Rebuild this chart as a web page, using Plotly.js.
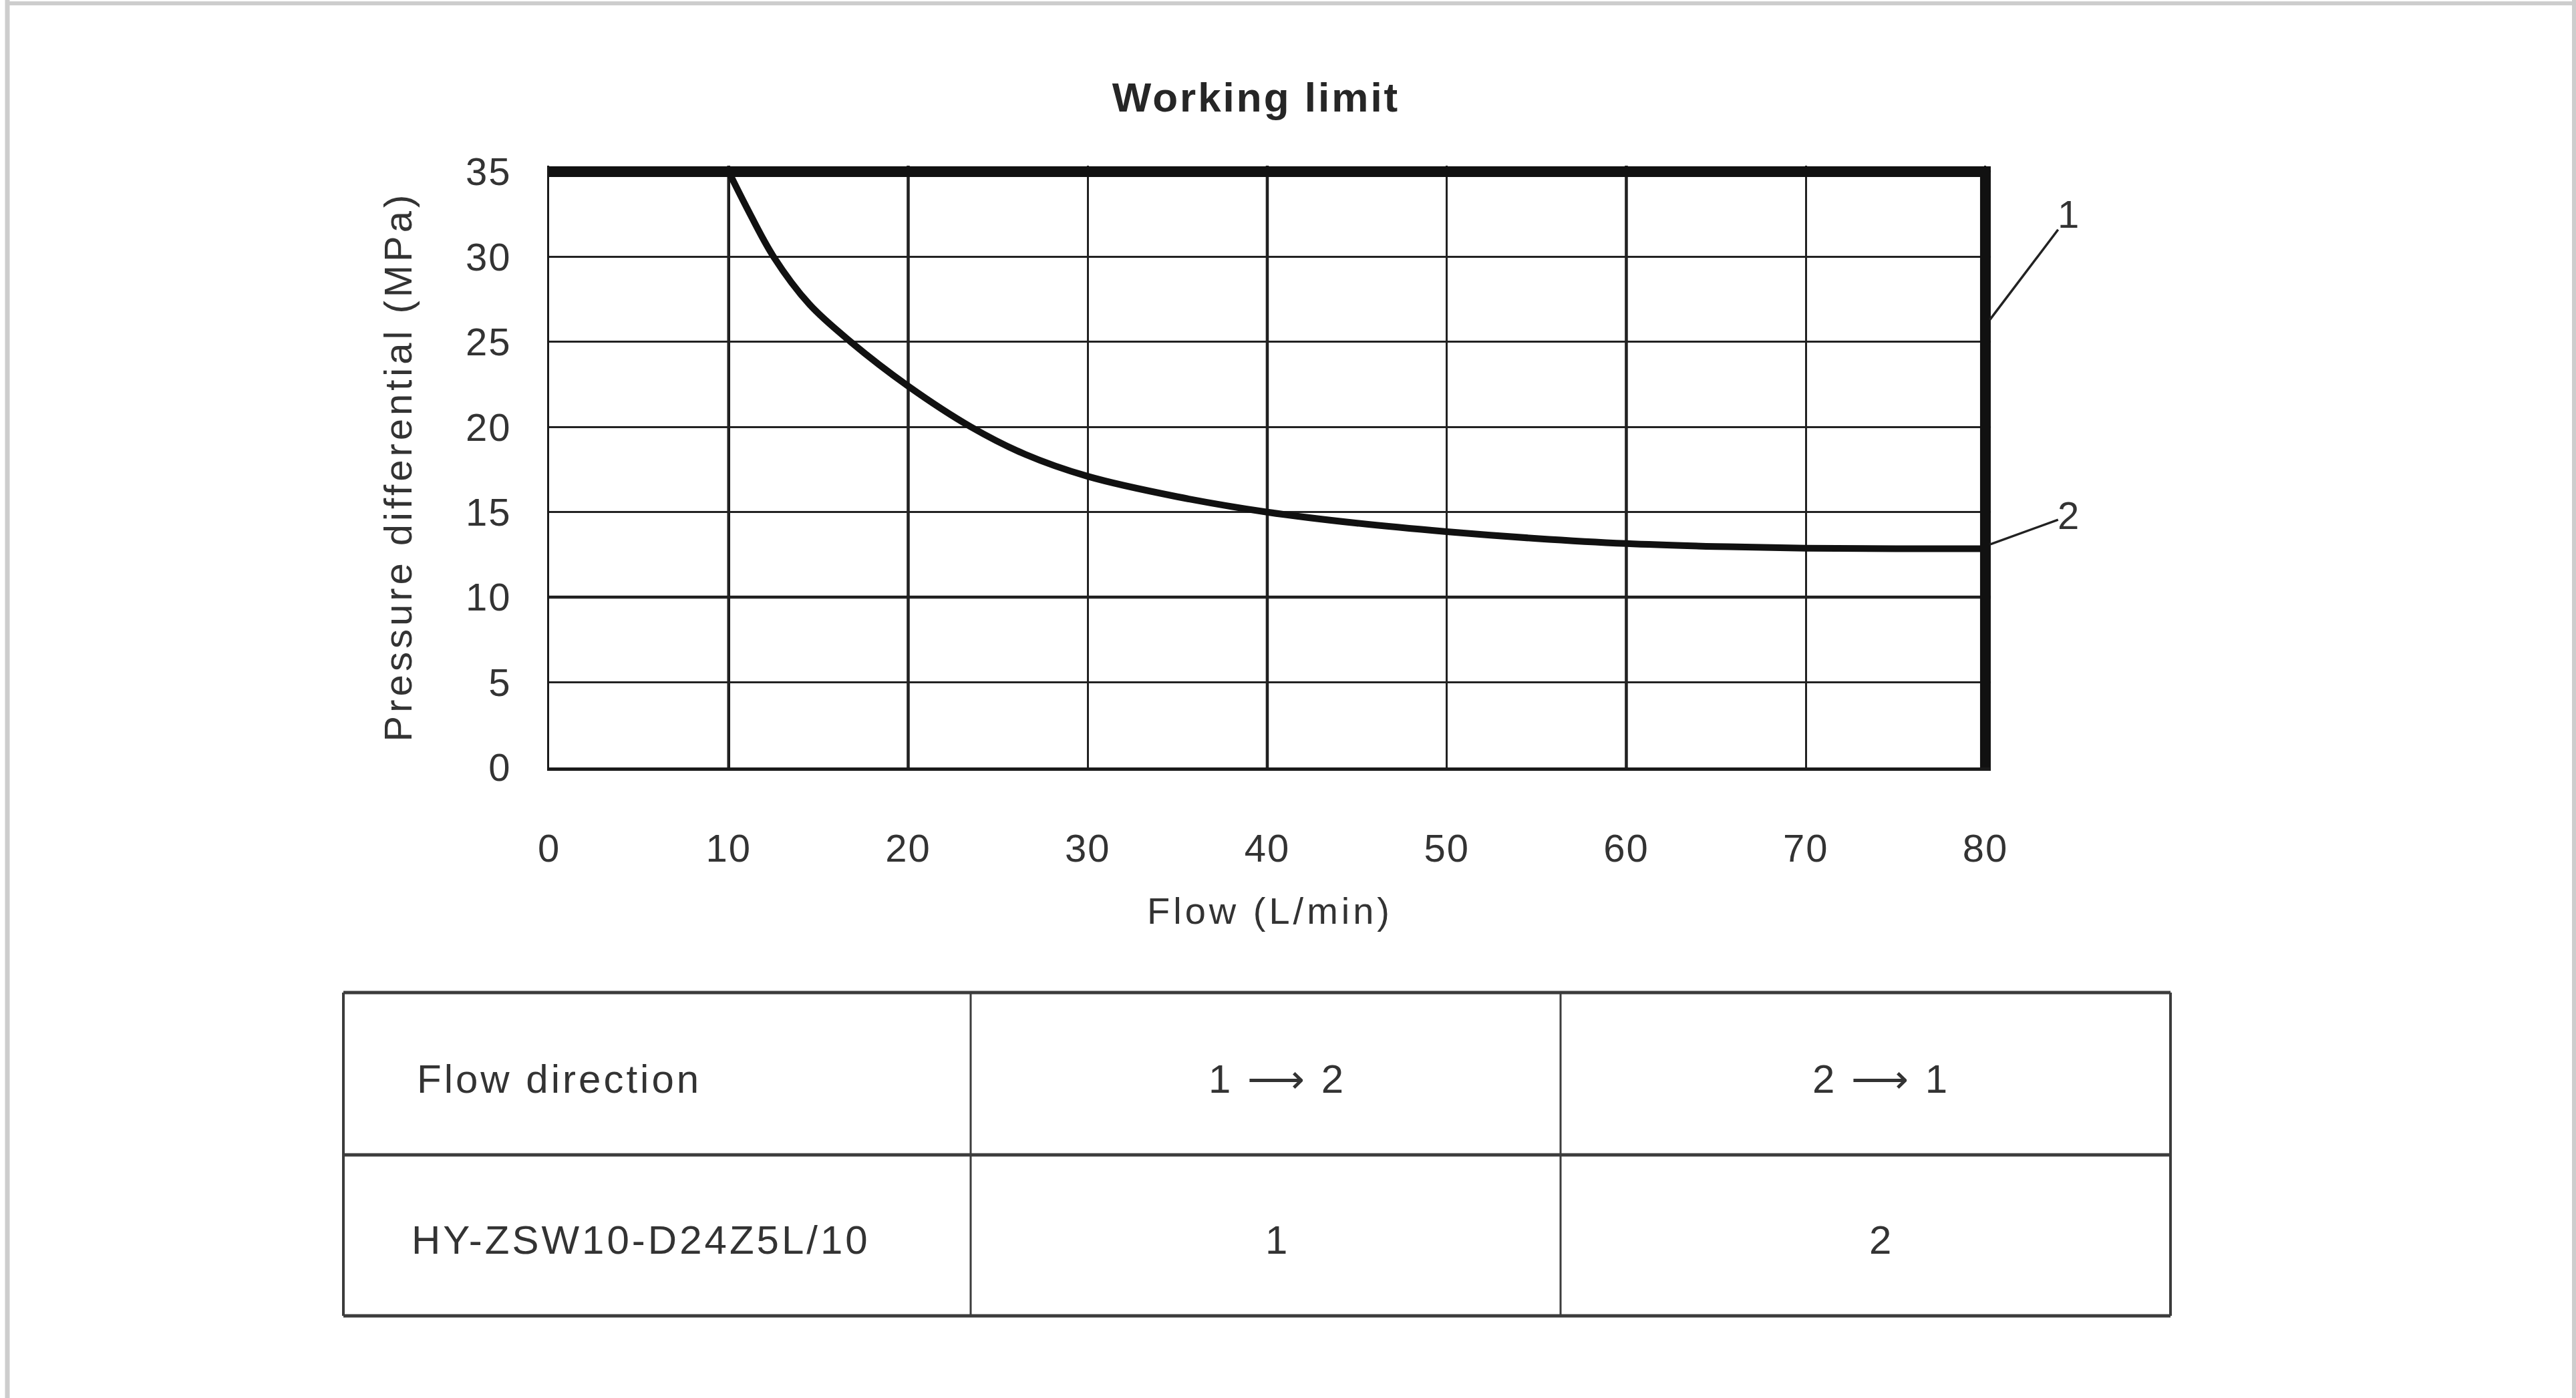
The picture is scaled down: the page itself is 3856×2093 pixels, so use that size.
<!DOCTYPE html>
<html><head><meta charset="utf-8">
<script src="https://cdn.plot.ly/plotly-3.0.1.min.js"></script>
<style>
html,body{margin:0;padding:0;background:#fff;}
#chart{width:3856px;height:2093px;}
#chart text.gtitle{letter-spacing:3px;}
#chart text.xtitle,#chart text.ytitle{letter-spacing:5px;}
#chart text.annotation-text{letter-spacing:4px;}
#chart .xtick text,#chart .ytick text{letter-spacing:2px;}
</style></head><body><div id="chart"></div>
<script>
// ---- data ----
const flow = [10, 11, 12.5, 14.5, 16.8, 20, 23.5, 26.5, 30, 35, 40, 45, 50, 55, 60, 65, 70, 75, 80];
const pressure = [35, 32.9, 30, 27.2, 25, 22.4, 20, 18.4, 17.1, 15.9, 15.0, 14.35, 13.85, 13.45, 13.15, 12.98, 12.88, 12.85, 12.85];
const limitFlow = [0, 80, 80];
const limitPressure = [35, 35, 0];
const xTicks = [0, 10, 20, 30, 40, 50, 60, 70, 80];
const yTicks = [0, 5, 10, 15, 20, 25, 30, 35];
const majorGridX = [10, 20, 40, 60];
const majorGridY = [10];
const tableHeader = ['Flow direction', '1 ⟶ 2', '2 ⟶ 1'];
const tableRow = ['HY-ZSW10-D24Z5L/10', '1', '2'];
const portLabels = ['1', '2'];

// ---- layout geometry (pixels) ----
const W = 3856, H = 2093;
const L = 822, R = 2980, T = 248, B = 1149;
const px2x = p => (p - L) / (R - L);
const py2y = p => (B - p) / (B - T);
const FONT = 'Liberation Sans, Arial, Helvetica, sans-serif';
const TXT = '#333333';

const traces = [
  {x: flow, y: pressure, type: 'scatter', mode: 'lines',
   line: {color: '#111111', width: 10, shape: 'spline', smoothing: 1},
   hoverinfo: 'skip', showlegend: false},
  {x: limitFlow, y: limitPressure, type: 'scatter', mode: 'lines',
   line: {color: '#111111', width: 16},
   hoverinfo: 'skip', showlegend: false}
];

const shapes = [];
majorGridX.forEach(v => shapes.push({type: 'line', xref: 'x', yref: 'paper', x0: v, x1: v, y0: 0, y1: 1,
  line: {color: '#151515', width: 4.5}, layer: 'between'}));
majorGridY.forEach(v => shapes.push({type: 'line', xref: 'paper', yref: 'y', x0: 0, x1: 1, y0: v, y1: v,
  line: {color: '#151515', width: 4.5}, layer: 'between'}));

// outer frame (left, top, right)
const frameCol = '#cdcdcd';
shapes.push({type: 'line', xref: 'paper', yref: 'paper', x0: px2x(11), x1: px2x(11), y0: py2y(0), y1: py2y(H), line: {color: frameCol, width: 7}});
shapes.push({type: 'line', xref: 'paper', yref: 'paper', x0: px2x(8), x1: px2x(W), y0: py2y(5), y1: py2y(5), line: {color: frameCol, width: 6}});
shapes.push({type: 'line', xref: 'paper', yref: 'paper', x0: px2x(3853), x1: px2x(3853), y0: py2y(0), y1: py2y(H), line: {color: frameCol, width: 6}});

// table grid
const tCols = [514, 1453, 2336, 3249];
const tRows = [1486, 1729, 1970];
const tCol = '#3c3c3c';
tRows.forEach(r => shapes.push({type: 'line', xref: 'paper', yref: 'paper',
  x0: px2x(tCols[0]), x1: px2x(tCols[3]), y0: py2y(r), y1: py2y(r), line: {color: tCol, width: 5}}));
tCols.forEach((c, i) => shapes.push({type: 'line', xref: 'paper', yref: 'paper',
  x0: px2x(c), x1: px2x(c), y0: py2y(tRows[0]), y1: py2y(tRows[2]), line: {color: tCol, width: (i === 0 || i === 3) ? 4 : 3}}));

const annotations = [];
// port labels with leader lines
annotations.push({xref: 'x', yref: 'y', x: 80.25, y: 26.3, axref: 'x', ayref: 'y', ax: 84.7, ay: 32.5,
  text: portLabels[0], showarrow: true, arrowhead: 0, arrowwidth: 3.5, arrowcolor: '#222', standoff: 0,
  font: {family: FONT, size: 58, color: TXT}});
annotations.push({xref: 'x', yref: 'y', x: 80.25, y: 13.1, axref: 'x', ayref: 'y', ax: 84.7, ay: 14.8,
  text: portLabels[1], showarrow: true, arrowhead: 0, arrowwidth: 3.5, arrowcolor: '#222', standoff: 0,
  font: {family: FONT, size: 58, color: TXT}});

// table text
const rowY = [1615, 1856];
const colX = [650, 1912, 2816];
[tableHeader, tableRow].forEach((row, ri) => {
  row.forEach((txt, ci) => {
    annotations.push({xref: 'paper', yref: 'paper', x: px2x(colX[ci]), y: py2y(rowY[ri]),
      xanchor: ci === 0 ? 'left' : 'center', yanchor: 'middle', showarrow: false, text: txt,
      font: {family: FONT, size: 60, color: TXT}});
  });
});

const layout = {
  width: W, height: H,
  paper_bgcolor: '#ffffff', plot_bgcolor: '#ffffff',
  margin: {l: L, r: W - R, t: T, b: H - B, pad: 0},
  showlegend: false,
  title: {text: 'Working limit', font: {family: FONT, size: 62, weight: 'bold', color: '#262626'},
    xref: 'paper', x: px2x(1880), xanchor: 'center', yref: 'container', y: 1 - 145 / H, yanchor: 'middle'},
  xaxis: {range: [0, 80.3], tickmode: 'array', tickvals: xTicks, ticktext: xTicks.map(String),
    showgrid: true, gridcolor: '#222222', gridwidth: 3, zeroline: false,
    showline: true, linecolor: '#1a1a1a', linewidth: 5, ticks: '', ticklabelstandoff: 66,
    tickfont: {family: FONT, size: 58, color: TXT},
    title: {text: 'Flow (L/min)', font: {family: FONT, size: 56, color: TXT}, standoff: 45},
    fixedrange: true},
  yaxis: {range: [0, 35.35], tickmode: 'array', tickvals: yTicks, ticktext: yTicks.map(String),
    showgrid: true, gridcolor: '#222222', gridwidth: 3, zeroline: false,
    showline: true, linecolor: '#1a1a1a', linewidth: 3, ticks: '', ticklabelstandoff: 42,
    tickfont: {family: FONT, size: 58, color: TXT},
    title: {text: 'Pressure differential (MPa)', font: {family: FONT, size: 58, color: TXT}, standoff: 66},
    fixedrange: true},
  shapes: shapes,
  annotations: annotations
};

Plotly.newPlot('chart', traces, layout, {staticPlot: true, displayModeBar: false});
</script></body></html>
